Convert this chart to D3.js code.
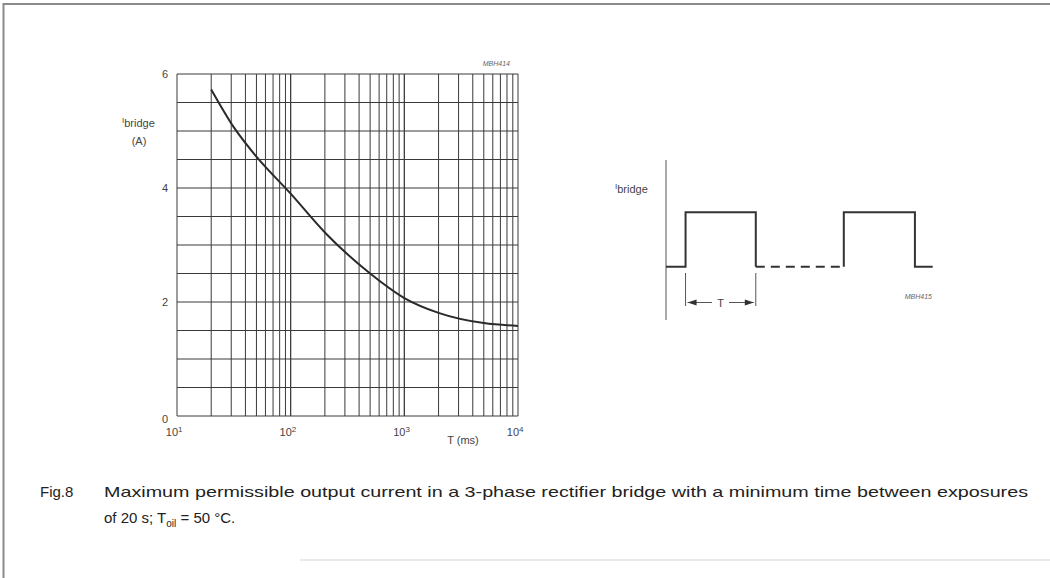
<!DOCTYPE html>
<html>
<head>
<meta charset="utf-8">
<script src="https://cdn.jsdelivr.net/npm/d3@7"></script>
<style>
  body { margin: 0; background: #fff; }
  svg { display: block; font-family: 'Liberation Sans', Arial, sans-serif; }
  .axis text { fill: #444; font-size: 11px; }
</style>
</head>
<body>
<svg id="chart" width="1050" height="578"></svg>
<script>
// curve: time T (ms) vs max current (A)
const timeMs = [20, 32, 50, 100, 200, 500, 1000, 2000, 5000, 10000]
const currentA = [5.73, 5.05, 4.55, 3.9, 3.22, 2.5, 2.07, 1.81, 1.63, 1.58]
const yTicks = [0, 2, 4, 6]
const xTicks = [10, 100, 1000, 10000]
const xTickExp = ['1', '2', '3', '4']

// pulse sketch: edge times (arbitrary units) and levels
const pulse1 = [[0, 0], [1.1, 0], [1.1, 1], [5.05, 1], [5.05, 0]]
const pulseGap = [[5.05, 0], [10, 0]]
const pulse2 = [[10, 0], [10, 1], [14, 1], [14, 0], [15, 0]]
const spanT = [1.1, 5.05]

function main() {
    let svg = d3.select('#chart'),
        margin = {top: 74, left: 177, right: 518, bottom: 416}

    // page frame
    svg.append('path')
        .attr('d', 'M3.5,578 V4 H1050')
        .attr('fill', 'none').attr('stroke', '#8a8a8a').attr('stroke-width', 2)
    svg.append('line')
        .attr('x1', 300).attr('x2', 1050).attr('y1', 560).attr('y2', 560)
        .attr('stroke', '#e2e2e2').attr('stroke-width', 1.5)

    let xScale = d3.scaleLog().domain([10, 10000]).range([margin.left, margin.right]),
        yScale = d3.scaleLinear().domain([0, 6]).range([margin.bottom, margin.top])

    let grid = svg.append('g').attr('stroke', '#3a3a3a').attr('stroke-width', 1)
    let vLines = []
    for (let dec = 10; dec < 10000; dec *= 10) {
        for (let k = 1; k <= 10; k++) vLines.push(dec * k)
    }
    grid.selectAll('.v').data(vLines).enter().append('line')
        .attr('x1', d => xScale(d)).attr('x2', d => xScale(d))
        .attr('y1', margin.top).attr('y2', margin.bottom)
    grid.selectAll('.h').data(d3.range(0, 6.01, 0.5)).enter().append('line')
        .attr('x1', margin.left).attr('x2', margin.right)
        .attr('y1', d => yScale(d)).attr('y2', d => yScale(d))

    let line = d3.line()
        .x((d, i) => xScale(timeMs[i]))
        .y(d => yScale(d))
        .curve(d3.curveMonotoneX)
    svg.append('path')
        .datum(currentA)
        .attr('d', line)
        .attr('fill', 'none').attr('stroke', '#2a2a2a').attr('stroke-width', 2)

    svg.append('g')
        .attr('class', 'axis')
        .attr('transform', 'translate(' + (margin.left - 3) + ',0)')
        .call(d3.axisLeft(yScale).tickValues(yTicks).tickSize(0).tickPadding(6).tickFormat(d3.format('d')))
        .call(g => g.select('.domain').remove())
        .selectAll('text').attr('dy', d => d == 0 ? '0.6em' : '0.32em')

    let xAxis = svg.append('g')
        .attr('class', 'axis')
        .attr('transform', 'translate(0,' + margin.bottom + ')')
        .call(d3.axisBottom(xScale).tickValues(xTicks).tickSize(0).tickPadding(12).tickFormat(() => ''))
    xAxis.select('.domain').remove()
    xAxis.selectAll('.tick text').each(function(d, i) {
        let t = d3.select(this).attr('dx', '-0.3em')
        t.append('tspan').text('10')
        t.append('tspan').attr('dy', '-0.45em').attr('font-size', '8px').text(xTickExp[i])
    })

    svg.append('text').attr('x', 463).attr('y', 444).attr('text-anchor', 'middle')
        .attr('font-size', 11).attr('fill', '#444').text('T (ms)')
    svg.append('text').attr('x', 510).attr('y', 66).attr('text-anchor', 'end')
        .attr('font-size', 7).attr('font-style', 'italic').attr('fill', '#666').text('MBH414')

    let yl = svg.append('text').attr('x', 122).attr('y', 127).attr('font-size', 11).attr('fill', '#444')
    yl.append('tspan').attr('font-size', 8).attr('dy', '-4').text('I')
    yl.append('tspan').attr('dy', '4').text('bridge')
    svg.append('text').attr('x', 139).attr('y', 145).attr('text-anchor', 'middle')
        .attr('font-size', 11).attr('fill', '#444').text('(A)')

    // pulse diagram
    let px = d3.scaleLinear().domain([0, 15]).range([666, 932.7]),
        py = d3.scaleLinear().domain([0, 1]).range([266.7, 212.3])
    let pl = d3.line().x(d => px(d[0])).y(d => py(d[1]))

    svg.append('line').attr('x1', 666).attr('x2', 666).attr('y1', 160).attr('y2', 320)
        .attr('stroke', '#555').attr('stroke-width', 1)
    svg.append('path').datum(pulse1).attr('d', pl)
        .attr('fill', 'none').attr('stroke', '#333').attr('stroke-width', 2)
    svg.append('path').datum(pulse2).attr('d', pl)
        .attr('fill', 'none').attr('stroke', '#333').attr('stroke-width', 2)
    svg.append('path').datum(pulseGap).attr('d', pl)
        .attr('fill', 'none').attr('stroke', '#333').attr('stroke-width', 2)
        .attr('stroke-dasharray', '9,6')

    let marks = svg.append('g').attr('stroke', '#555').attr('stroke-width', 1)
    spanT.forEach(t => {
        marks.append('line').attr('x1', px(t)).attr('x2', px(t)).attr('y1', 273).attr('y2', 306)
    })
    let ay = 302.5
    marks.append('line').attr('x1', px(spanT[0]) + 2).attr('x2', 712).attr('y1', ay).attr('y2', ay)
    marks.append('line').attr('x1', 729).attr('x2', px(spanT[1]) - 2).attr('y1', ay).attr('y2', ay)
    let arrows = svg.append('g').attr('fill', '#333')
    arrows.append('path').attr('d', d3.line()([[px(spanT[0]) + 2, ay], [px(spanT[0]) + 11, ay - 3], [px(spanT[0]) + 11, ay + 3]]))
    arrows.append('path').attr('d', d3.line()([[px(spanT[1]) - 2, ay], [px(spanT[1]) - 11, ay - 3], [px(spanT[1]) - 11, ay + 3]]))
    svg.append('text').attr('x', 720.5).attr('y', 307).attr('text-anchor', 'middle')
        .attr('font-size', 11).attr('fill', '#444').text('T')
    svg.append('text').attr('x', 932).attr('y', 299).attr('text-anchor', 'end')
        .attr('font-size', 7).attr('font-style', 'italic').attr('fill', '#666').text('MBH415')

    let rl = svg.append('text').attr('x', 615).attr('y', 193).attr('font-size', 11).attr('fill', '#444')
    rl.append('tspan').attr('font-size', 8).attr('dy', '-4').text('I')
    rl.append('tspan').attr('dy', '4').text('bridge')

    // caption
    let cap = svg.append('g').attr('fill', '#222').attr('font-size', 15)
    cap.append('text').attr('x', 40).attr('y', 497).text('Fig.8')
    cap.append('text').attr('x', 104).attr('y', 497)
        .attr('textLength', 924).attr('lengthAdjust', 'spacingAndGlyphs')
        .text('Maximum permissible output current in a 3-phase rectifier bridge with a minimum time between exposures')
    let c2 = cap.append('text').attr('x', 104).attr('y', 523)
    c2.append('tspan').text('of 20 s; T')
    c2.append('tspan').attr('font-size', 10).attr('dy', 4).text('oil')
    c2.append('tspan').attr('dy', -4).text(' = 50 °C.')
}

main()
</script>
</body>
</html>
